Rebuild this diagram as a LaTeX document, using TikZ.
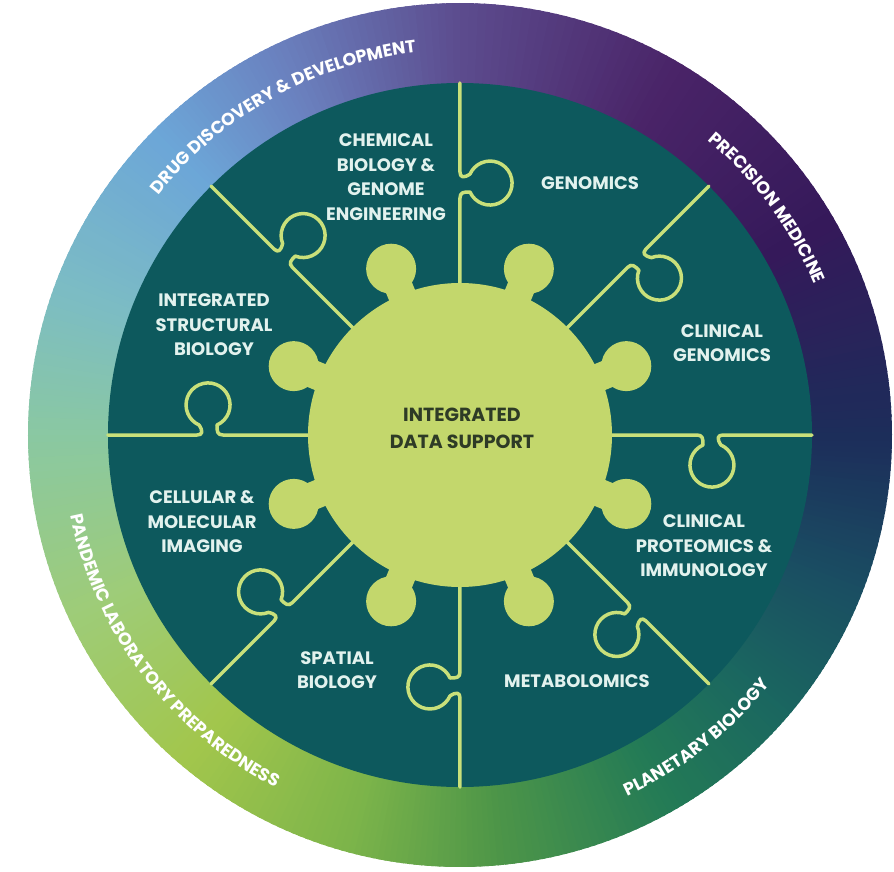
\documentclass[tikz,border=0pt]{standalone}
\usepackage{fontspec}
\setmainfont{Poppins}
\usetikzlibrary{decorations.text}

\definecolor{disc}{HTML}{0D595D}
\definecolor{hub}{HTML}{C3D76C}
\definecolor{seam}{HTML}{C9E07A}
\definecolor{areatext}{HTML}{E2F2EE}
\definecolor{hubtext}{HTML}{2E3B26}
% colour stops round the outer ring
\definecolor{ringA}{HTML}{1C2D5A}
\definecolor{ringB}{HTML}{35195A}
\definecolor{ringC}{HTML}{4A2468}
\definecolor{ringD}{HTML}{5C4C8E}
\definecolor{ringE}{HTML}{6A80BE}
\definecolor{ringF}{HTML}{6CA6D8}
\definecolor{ringG}{HTML}{7CBCC4}
\definecolor{ringH}{HTML}{8AC8A2}
\definecolor{ringI}{HTML}{9ECC78}
\definecolor{ringJ}{HTML}{A2C64C}
\definecolor{ringK}{HTML}{7CB44A}
\definecolor{ringL}{HTML}{4E9648}
\definecolor{ringM}{HTML}{237A56}
\definecolor{ringN}{HTML}{1A6660}
\definecolor{ringO}{HTML}{1A4C62}

\newcommand{\ringfont}{\bfseries\fontsize{17.5}{18}\selectfont}

\begin{document}
\begin{tikzpicture}[x=1pt, y=1pt,
    area/.style={align=center, text=areatext, font=\bfseries\fontsize{18}{24.5}\selectfont},
    core/.style={align=center, text=hubtext, font=\bfseries\fontsize{19}{27}\selectfont},
    seamline/.style={draw=seam, line width=3.5pt, line join=round, line cap=round},
    theme/.style={decorate, decoration={text along path, text align=center, text color=white, text={|\ringfont|#1}}}
]
\useasboundingbox (-460,435) rectangle (434,-436);

% Outer ring, shaded wedge by wedge
\foreach \a/\b/\ca/\cb in {0/30/ringA/ringB, 30/60/ringB/ringC, 60/90/ringC/ringD,
    90/115/ringD/ringE, 115/135/ringE/ringF, 135/160/ringF/ringG, 160/180/ringG/ringH,
    180/205/ringH/ringI, 205/230/ringI/ringJ, 230/255/ringJ/ringK, 255/275/ringK/ringL,
    275/300/ringL/ringM, 300/320/ringM/ringN, 320/340/ringN/ringO, 340/360/ringO/ringA} {
  \foreach \i in {0,...,24} {
    \pgfmathsetmacro\s{\a+(\b-\a)*\i/25}
    \pgfmathsetmacro\e{\a+(\b-\a)*(\i+1)/25+0.4}
    \pgfmathsetmacro\p{(\i+0.5)*4}
    \colorlet{wedge}{\cb!\p!\ca}
    \fill[wedge] (0,0) -- (\s:432) arc[start angle=\s, end angle=\e, radius=432] -- cycle;
  }
}

% Themes on the ring
\path[theme={DRUG DISCOVERY {\&} DEVELOPMENT}] (165:385) arc[start angle=165, end angle=73, radius=385];
\path[theme={PRECISION MEDICINE}] (80:385) arc[start angle=80, end angle=-7, radius=385];
\path[theme={PLANETARY BIOLOGY}] (-95:398) arc[start angle=-95, end angle=-9, radius=398];
\path[theme={PANDEMIC LABORATORY PREPAREDNESS}] (-190:398) arc[start angle=-190, end angle=-96, radius=398];

% Inner disc
\fill[disc] (0,0) circle (352);

% Puzzle seams between the areas
\foreach \t in {0,45,...,315}
  \draw[seamline, rotate=\t] (140,0) -- (237,0)
    .. controls (243,0) and (243,-4) .. (243,-10)
    arc[start angle=114, end angle=426, radius=22]
    .. controls (257,-4) and (257,0) .. (263,0) -- (352,0);

% Hub with its knobs
\fill[hub] (0,0) circle (152);
\foreach \k in {22.5,67.5,...,337.5} {
  \fill[hub, rotate=\k] (140,-14) -- (166,-14) -- (166,14) -- (140,14) -- cycle;
  \fill[hub] (\k:180) circle (25);
}

% Labels
\node[core] (support) at (2,7) {INTEGRATED\\DATA SUPPORT};
\node[area] (chembio) at (-74,258) {CHEMICAL\\BIOLOGY \&\\GENOME\\ENGINEERING};
\node[area] (genomics) at (130,252) {GENOMICS};
\node[area] (clingen) at (262,92) {CLINICAL\\GENOMICS};
\node[area] (clinprot) at (244,-111) {CLINICAL\\PROTEOMICS \&\\IMMUNOLOGY};
\node[area] (metab) at (117,-246) {METABOLOMICS};
\node[area] (spatial) at (-123,-235) {SPATIAL\\BIOLOGY};
\node[area] (imaging) at (-258,-87) {CELLULAR \&\\MOLECULAR\\IMAGING};
\node[area] (structural) at (-246,110) {INTEGRATED\\STRUCTURAL\\BIOLOGY};
\end{tikzpicture}
\end{document}
